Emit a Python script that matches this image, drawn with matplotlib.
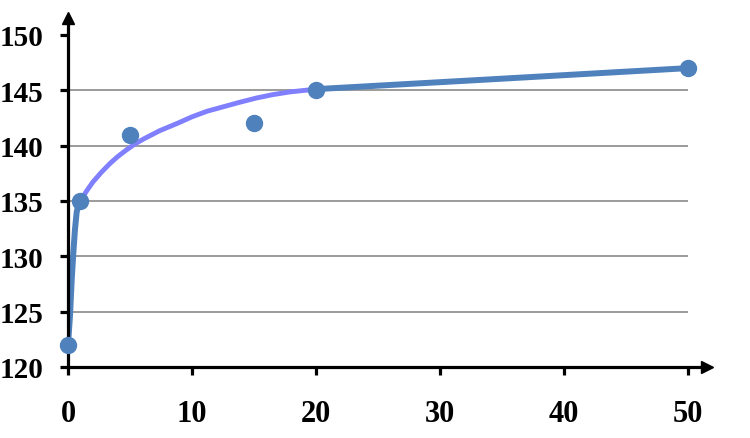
import matplotlib
matplotlib.use("Agg")
import matplotlib.pyplot as plt

# --------------------------------
# Data
# --------------------------------
x_pts = [0, 1, 5, 15, 20, 50]
y_pts = [122, 135, 141, 142, 145, 147]

# steep blue rise between the first two points
rise_x = [0, 0.16, 0.3, 0.43, 0.56, 0.7, 0.85, 1]
rise_y = [122, 124.6, 127.9, 130.3, 132.4, 134.0, 134.7, 135]

# purple curve from 1 to 20
trend_x = [1, 1.5, 2, 2.7, 3.4, 4, 4.7, 5.4, 6.1, 7.4, 8.8, 10,
           11.2, 12.5, 13.8, 15.2, 16.5, 17.9, 20]
trend_y = [135, 135.9, 136.7, 137.6, 138.4, 139.0, 139.6, 140.15, 140.6, 141.35, 142.0, 142.6,
           143.1, 143.5, 143.9, 144.3, 144.6, 144.85, 145.1]

# blue tail from 20 to 50
tail_x = [20, 33.5, 50]
tail_y = [145.1, 145.95, 147]

x_ticks = [0, 10, 20, 30, 40, 50]
y_ticks = [120, 125, 130, 135, 140, 145, 150]
grid_y = [125, 130, 135, 140, 145]

blue = "#4F81BD"
purple = "#8080FF"

plt.rcParams["font.family"] = "Liberation Serif"

fig = plt.figure(figsize=(7.5, 4.39), dpi=100)
ax = fig.add_axes([68 / 750, 71 / 439, 638.6 / 750, 348.7 / 439])

ax.hlines(grid_y, 0, 50, color="#808080", lw=1.1, zorder=1)

ax.plot(rise_x, rise_y, color=blue, lw=4.3, solid_capstyle="round",
        solid_joinstyle="round", zorder=3)
ax.plot(trend_x, trend_y, color=purple, lw=3.5, solid_joinstyle="round", zorder=3)
ax.plot(tail_x, tail_y, color=blue, lw=4.3, zorder=3)
ax.plot(x_pts, y_pts, "o", color=blue, markersize=11.5, zorder=5, clip_on=False)

ax.set_xlim(0, 51.5)
ax.set_ylim(120, 151.5)
ax.set_xticks(x_ticks)
ax.set_yticks(y_ticks)

for s in ["top", "right"]:
    ax.spines[s].set_visible(False)
for s in ["left", "bottom"]:
    ax.spines[s].set_linewidth(2.3)
    ax.spines[s].set_zorder(4)

ax.tick_params(axis="y", direction="out", length=6, width=2.3, pad=12, labelsize=21)
ax.tick_params(axis="x", direction="out", length=6, width=2.3, pad=17, labelsize=22)
for lab in ax.get_xticklabels() + ax.get_yticklabels():
    lab.set_fontweight("bold")

# arrow heads on the axes
ax.plot([0], [1], marker="^", color="black", markersize=8, transform=ax.transAxes, clip_on=False, zorder=6)
ax.plot([1], [0], marker=">", color="black", markersize=8, transform=ax.transAxes, clip_on=False, zorder=6)

fig.savefig("out.png", dpi=100)
